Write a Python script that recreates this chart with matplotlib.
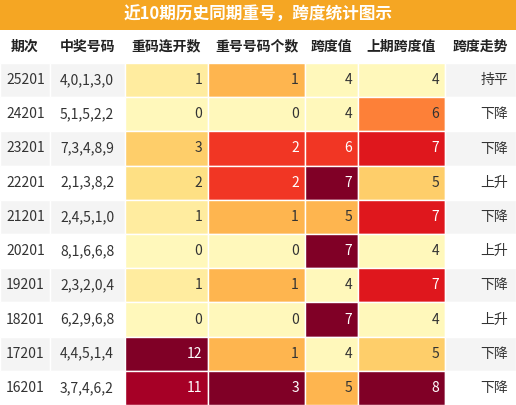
import numpy as np
import matplotlib.pyplot as plt
from matplotlib import cm, colors
from matplotlib.patches import Rectangle

plt.rcParams['font.family'] = ['Noto Sans CJK SC', 'DejaVu Sans']

title = "近10期历史同期重号，跨度统计图示"
headers = ["期次", "中奖号码", "重码连开数", "重号号码个数", "跨度值", "上期跨度值", "跨度走势"]
periods = ["25201", "24201", "23201", "22201", "21201", "20201", "19201", "18201", "17201", "16201"]
numbers = ["4,0,1,3,0", "5,1,5,2,2", "7,3,4,8,9", "2,1,3,8,2", "2,4,5,1,0",
           "8,1,6,6,8", "2,3,2,0,4", "6,2,9,6,8", "4,4,5,1,4", "3,7,4,6,2"]
repeat_run = [1, 0, 3, 2, 1, 0, 1, 0, 12, 11]
repeat_cnt = [1, 0, 2, 2, 1, 0, 1, 0, 1, 3]
span = [4, 4, 6, 7, 5, 7, 4, 7, 4, 5]
prev_span = [4, 6, 7, 5, 7, 4, 7, 4, 5, 8]
trend = ["持平", "下降", "下降", "上升", "下降", "上升", "下降", "上升", "下降", "下降"]

W, H = 516, 405
fig = plt.figure(figsize=(W / 100, H / 100), dpi=100)
ax = fig.add_axes([0, 0, 1, 1])
ax.set_xlim(0, W)
ax.set_ylim(H, 0)
ax.axis('off')

col_x = [0, 50, 125, 208, 305, 358, 445, 516]
title_h, head_h = 30, 33
row_h = (H - title_h - head_h) / len(periods)

ax.add_patch(Rectangle((0, 0), W, title_h, color='#F5A623', lw=0))
ax.text(W / 2, title_h / 2, title, ha='center', va='center', color='white',
        fontsize=12, fontweight='bold')
for j, h in enumerate(headers):
    ax.text((col_x[j] + col_x[j + 1]) / 2, title_h + head_h / 2, h,
            ha='center', va='center', fontsize=10, fontweight='bold', color='#222222')

cmap = plt.get_cmap('YlOrRd')
heat_cols = {2: repeat_run, 3: repeat_cnt, 4: span, 5: prev_span}

for i in range(len(periods)):
    y0 = title_h + head_h + i * row_h
    yc = y0 + row_h / 2
    bg = '#F4F4F4' if i % 2 == 0 else 'white'
    for j in range(7):
        x0, x1 = col_x[j], col_x[j + 1]
        if j in heat_cols:
            vals = heat_cols[j]
            norm = colors.Normalize(min(vals), max(vals))
            t = 0.05 + 0.95 * norm(vals[i])
            fc = cmap(t)
            ax.add_patch(Rectangle((x0, y0), x1 - x0, row_h, fc=fc, ec='white', lw=1))
            tc = 'white' if t > 0.55 else '#333333'
            ax.text(x1 - 6, yc, str(vals[i]), ha='right', va='center', fontsize=10, color=tc)
        else:
            ax.add_patch(Rectangle((x0, y0), x1 - x0, row_h, fc=bg, ec='white', lw=1))
    ax.text(col_x[0] + 6, yc, periods[i], ha='left', va='center', fontsize=10, color='#333333')
    ax.text(col_x[1] + 10, yc, numbers[i], ha='left', va='center', fontsize=10, color='#333333')
    ax.text(col_x[7] - 8, yc, trend[i], ha='right', va='center', fontsize=10, color='#333333')

fig.savefig('out.png', dpi=100)
